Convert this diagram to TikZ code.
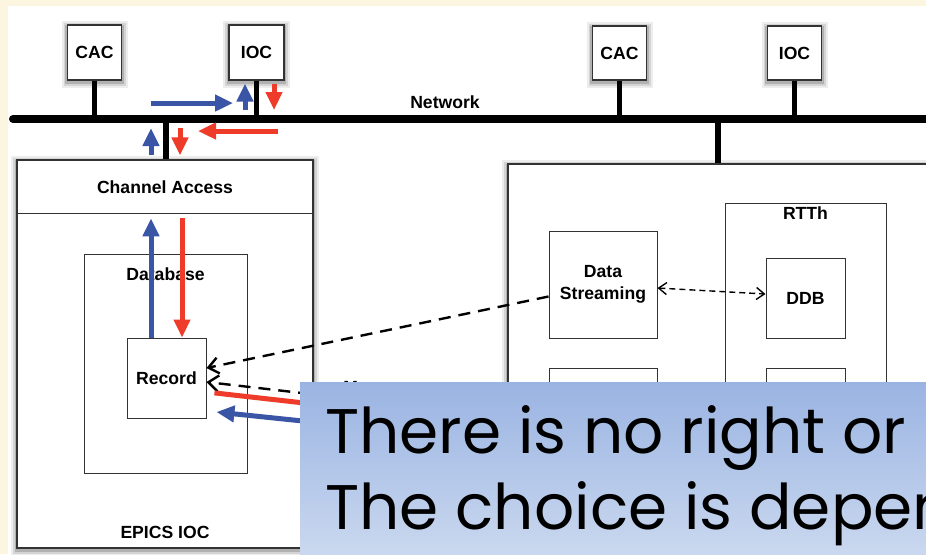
\documentclass[tikz,border=0pt]{standalone}
\usepackage{fontspec}
\setmainfont{Liberation Sans}
\newfontfamily\slidefont{Poppins}
\usetikzlibrary{arrows.meta,positioning}

\definecolor{slidecream}{HTML}{FCF6E1}
\definecolor{reqblue}{HTML}{3B55A6}
\definecolor{ansred}{HTML}{EE3B2A}
\definecolor{boxgray}{HTML}{333333}
\definecolor{notetop}{HTML}{9AB4E2}
\definecolor{notebot}{HTML}{CAD8EF}

\tikzset{
  lbl/.style={font=\fontsize{8.8pt}{11pt}\selectfont\bfseries, inner sep=3pt},
  % soft shadow: stacked translucent strokes under the white fill
  softshadow/.style={
    preaction={draw=black, draw opacity=0.07, line width=6pt, transform canvas={yshift=-1pt}},
    preaction={draw=black, draw opacity=0.10, line width=4pt, transform canvas={yshift=-1pt}},
    preaction={draw=black, draw opacity=0.16, line width=2.2pt, transform canvas={yshift=-1pt}}},
  hostbox/.style={lbl, softshadow, draw=boxgray, line width=0.6pt, fill=white},
  box/.style={lbl, draw=boxgray, line width=0.5pt, fill=white},
  bus/.style={line width=4pt, line cap=round},
  stub/.style={line width=2.7pt},
  reqarrow/.style={reqblue, line width=2.5pt, -{Triangle[length=9pt, width=8pt]}},
  ansarrow/.style={ansred, line width=2.5pt, -{Triangle[length=9pt, width=8pt]}},
  linkarrow/.style={line width=1.2pt, dash pattern=on 6pt off 4pt,
    -{Straight Barb[length=5pt, width=8pt]}},
  peerarrow/.style={line width=0.7pt, dash pattern=on 3pt off 2pt,
    {Straight Barb[length=4pt, width=6pt]}-{Straight Barb[length=4pt, width=6pt]}},
  notetext/.style={font=\slidefont\fontsize{31.5pt}{38pt}\selectfont, inner sep=0pt, anchor=base west}
}

\begin{document}
\begin{tikzpicture}[x=0.5pt, y=-0.5pt]
  \useasboundingbox (0,0) rectangle (926,554);
  \clip (0,0) rectangle (926,554);
  % slide background
  \fill[slidecream] (0,0) rectangle (926,554);
  \fill[white] (8,6) rectangle (926,554);

  % network bus
  \coordinate (busL) at (13,119);
  \coordinate (busR) at (960,119);
  \draw[bus] (busL) -- (busR);
  \node[lbl] (netlbl) at (445,102) {Network};

  % hosts on the bus
  \node[hostbox, minimum width=27pt, minimum height=27.5pt] (cac1) at (94.5,52.5) {CAC};
  \node[hostbox, minimum width=27.5pt, minimum height=27.5pt] (ioc1) at (256.5,52.5) {IOC};
  \node[hostbox, minimum width=27pt, minimum height=27pt] (cac2) at (619.5,53) {CAC};
  \node[hostbox, minimum width=27pt, minimum height=27pt] (ioc2) at (794.5,53) {IOC};
  \foreach \h in {cac1,ioc1,cac2,ioc2}
    \draw[stub] (\h.south) -- (\h.south |- busL);

  % EPICS IOC
  \node[hostbox, minimum width=148pt, minimum height=194pt] (epics) at (165,354) {};
  \node[lbl, above=2pt of epics.south] (epicslbl) {EPICS IOC};
  \node[box, fill=none, minimum width=148pt, minimum height=27pt, anchor=north] (ca) at (epics.north) {Channel Access};
  \draw[stub] ([xshift=0.5pt]ca.north) -- ([xshift=0.5pt]ca.north |- busL);
  \node[box, minimum width=81.5pt, minimum height=109.5pt] (db) at (165.5,363.5) {};
  \node[lbl, below=4pt of db.north] (dblbl) {Database};
  \node[box, minimum width=39.5pt, minimum height=40pt] (rec) at (166.5,378) {Record};

  % real-time system
  \node[hostbox, minimum width=246pt, minimum height=243pt] (rtsys) at (754,407) {};
  \draw[stub] ([xshift=-18pt]rtsys.north) -- ([xshift=-18pt]rtsys.north |- busL);
  \node[box, align=center, minimum width=54pt, minimum height=53.5pt] (ds) at (603,284.5) {Data\\Streaming};
  \node[box, minimum width=54pt, minimum height=53.5pt] (lowds) at (603,421.5) {};
  \node[box, minimum width=80.5pt, minimum height=200pt] (rtth) at (805.5,403) {};
  \node[lbl, below=-1pt of rtth.north] (rtthlbl) {RTTh};
  \node[box, minimum width=39.5pt, minimum height=40pt] (ddb) at (805.5,298) {DDB};
  \node[box, minimum width=39.5pt, minimum height=40pt] (lowddb) at (805.5,408) {};
  \node[lbl, anchor=north west, inner sep=0pt] (msg) at (343,380.5) {Message};

  % channel access traffic over the network
  \draw[reqarrow] (151,103) -- (233,103);
  \draw[reqarrow] (245,110) -- ([xshift=-5.75pt, yshift=-1.5pt]ioc1.south);
  \draw[ansarrow] ([xshift=8.75pt, yshift=-1.5pt]ioc1.south) -- (274,110);
  \draw[ansarrow] (278,131) -- (198,131);
  \draw[reqarrow] ([xshift=-7pt, yshift=2pt]ca.north) -- (151,128);
  \draw[ansarrow] (180,128) -- ([xshift=7.5pt, yshift=2pt]ca.north);

  % record <-> channel access
  \coordinate (rq) at ([xshift=-7.75pt]rec.north);
  \coordinate (rs) at ([xshift=7.75pt]rec.north);
  \draw[reqarrow, shorten >=2pt] (rq) -- (rq |- ca.south);
  \draw[ansarrow, shorten <=2pt] (rs |- ca.south) -- (rs);

  % record <-> real-time system
  \draw[linkarrow] ([yshift=-6pt]ds.west) -- ([yshift=5pt]rec.east);
  \draw[linkarrow] (lowds.west) -- ([yshift=-2pt]rec.east);
  \draw[ansarrow, shorten <=4pt] ([yshift=-7pt]rec.east) -- ([yshift=-4.5pt]lowds.west);
  \draw[reqarrow, shorten >=5pt] ([yshift=-12.5pt]lowds.west) -- ([yshift=-16.5pt]rec.east);
  \draw[peerarrow] ([yshift=-1.75pt]ds.east) -- ([yshift=2pt]ddb.west);

  % note on top
  \fill[top color=notetop, bottom color=notebot] (300,382) rectangle (926,554);
  \node[notetext] (note1) at (325,453) {There is no right or};
  \node[notetext] (note2) at (325,529) {The choice is depend};
\end{tikzpicture}
\end{document}
